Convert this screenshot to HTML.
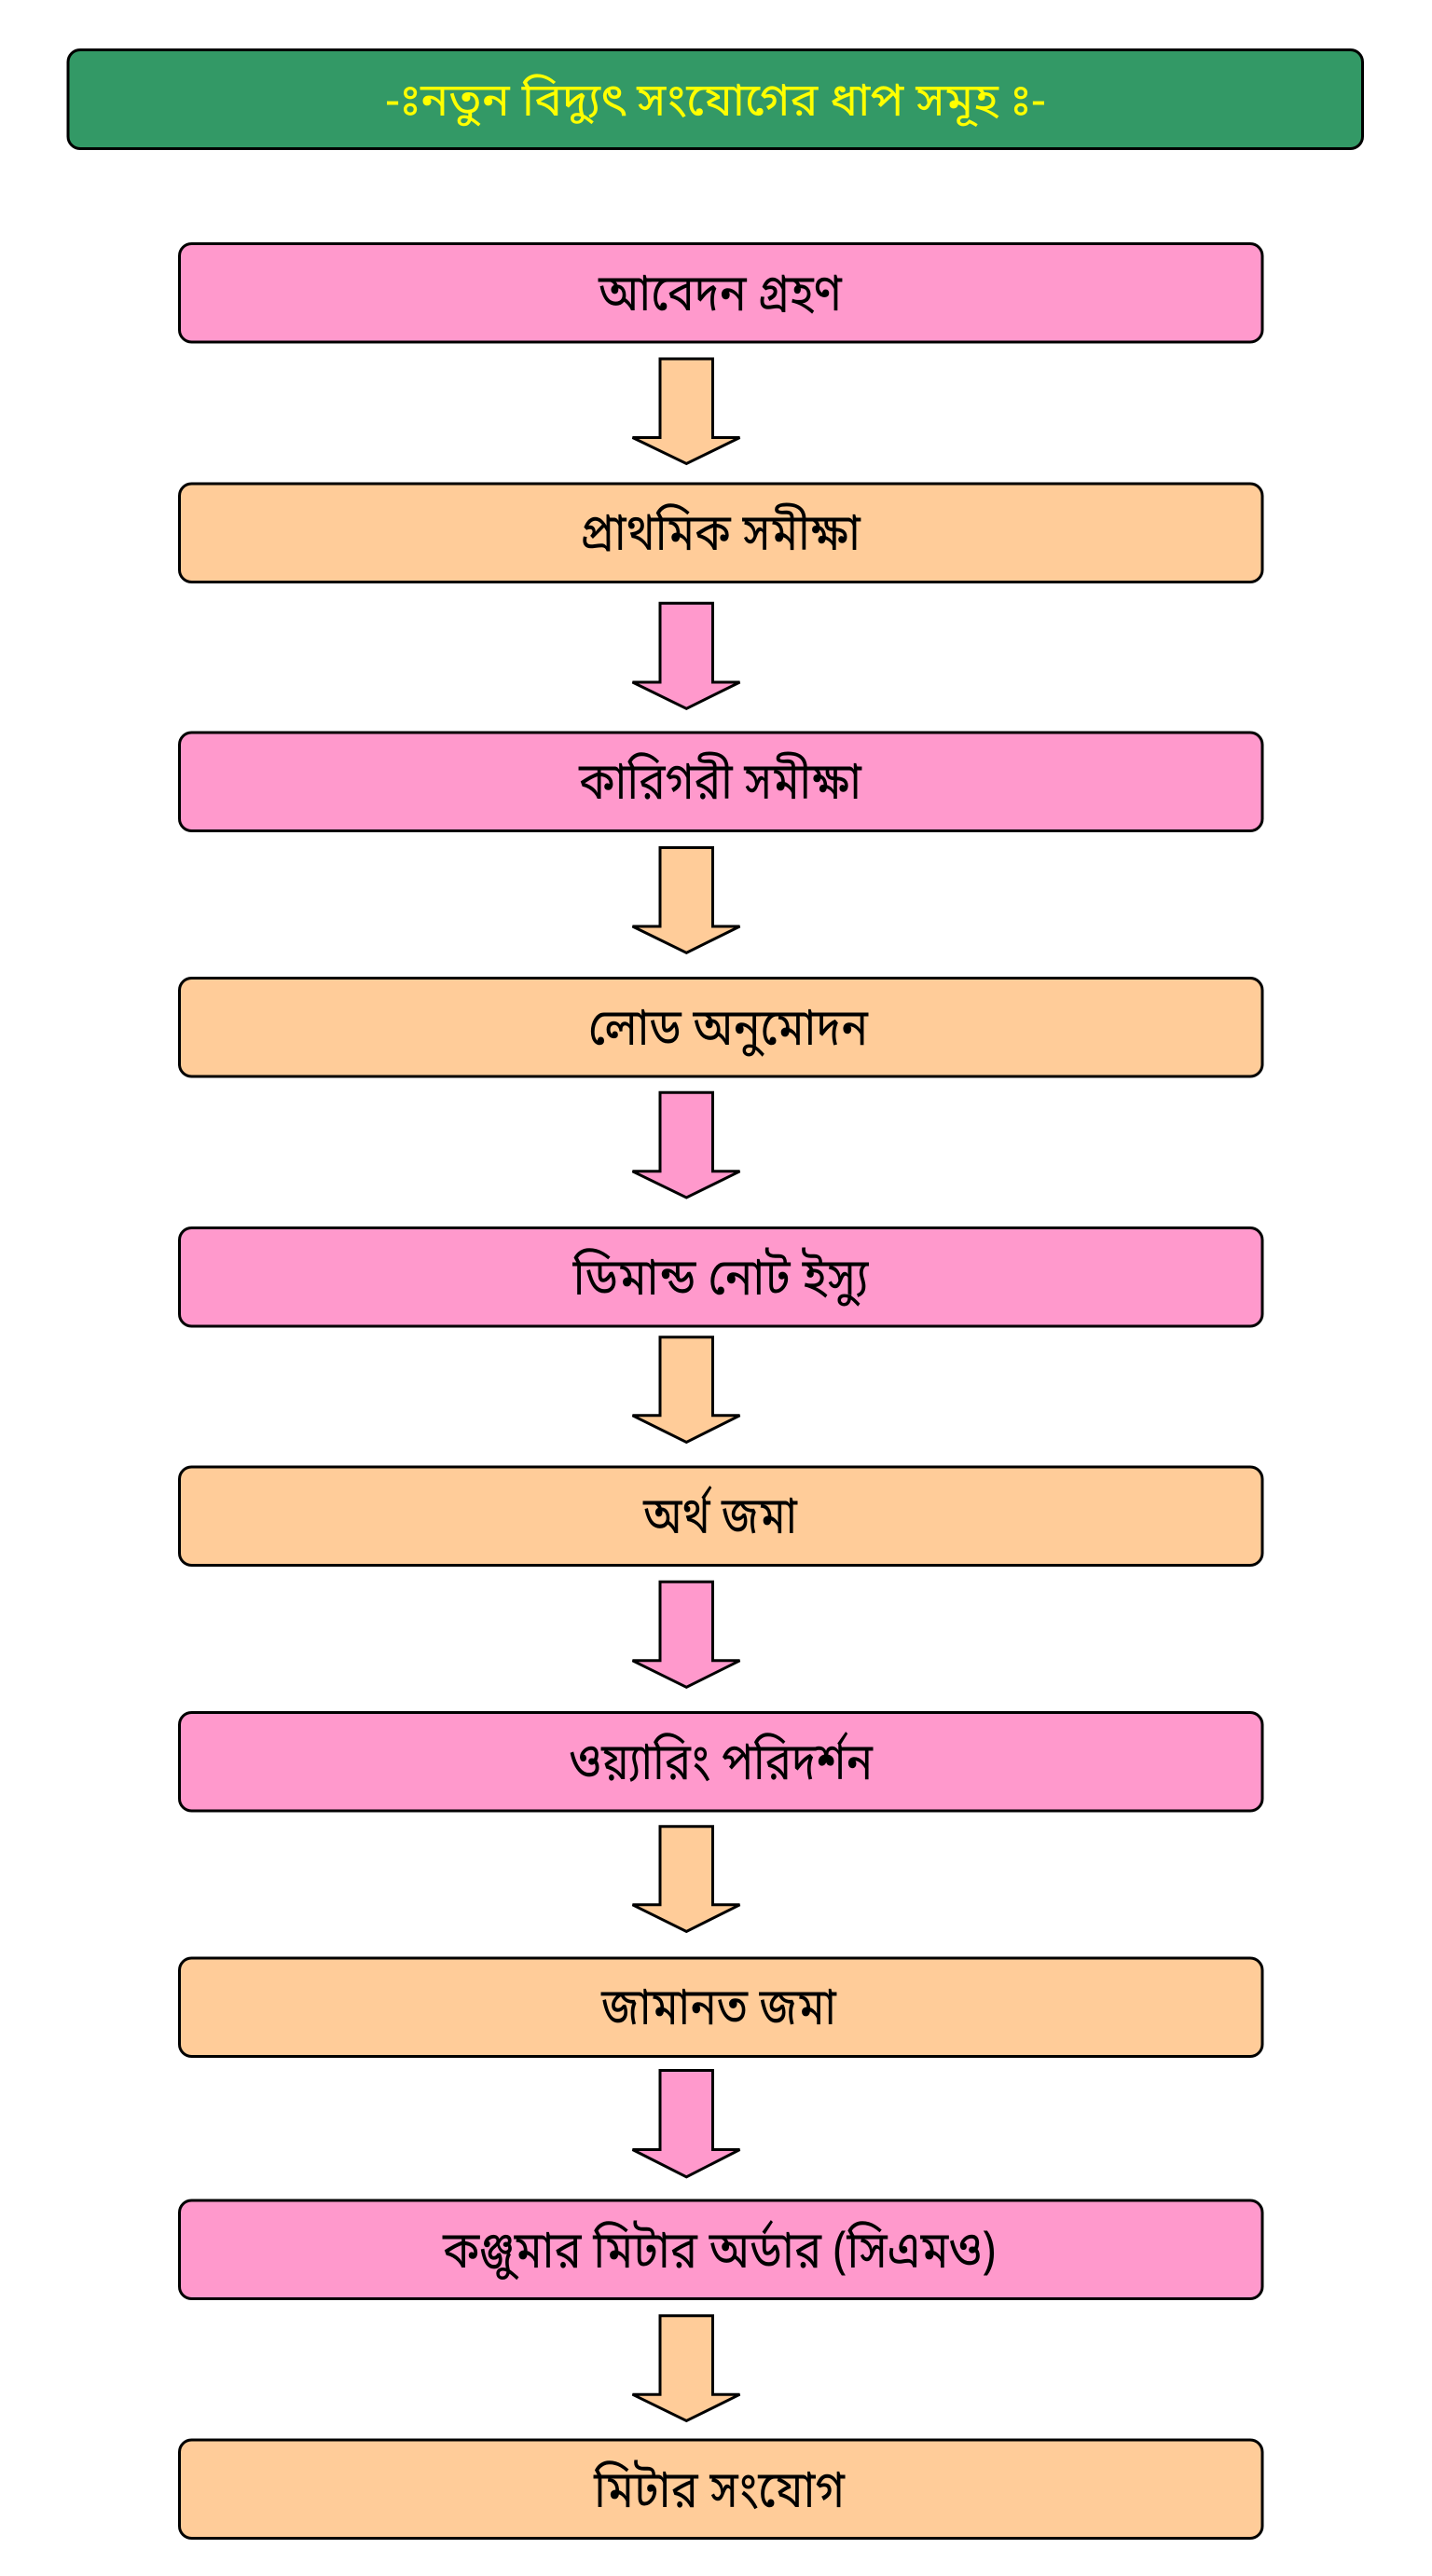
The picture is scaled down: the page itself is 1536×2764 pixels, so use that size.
<!DOCTYPE html>
<html lang="bn">
<head>
<meta charset="utf-8">
<title>নতুন বিদ্যুৎ সংযোগের ধাপ সমূহ</title>
<style>
html,body{margin:0;padding:0;background:#fff;width:1536px;height:2764px;overflow:hidden}
svg{display:block}
text{font-family:"Vrinda","Noto Sans Bengali","Noto Serif Bengali","Lohit Bengali","FreeSerif","Liberation Serif","Noto Serif CJK SC",serif;font-size:55px;text-anchor:middle;fill:#000}
rect,polygon{stroke:#000;stroke-width:3}
.p{fill:#FF99CC}.o{fill:#FFCC99}
</style>
</head>
<body>
<svg xmlns="http://www.w3.org/2000/svg" width="1536" height="2764" viewBox="0 0 1536 2764">
<rect x="73" y="53.5" width="1388.5" height="106" rx="13" fill="#339966"/>
<text x="767.5" y="124" textLength="709" lengthAdjust="spacingAndGlyphs" style="fill:#FFFF00;font-size:50px">-ঃনতুন বিদ্যুৎ সংযোগের ধাপ সমূহ&#160;ঃ-</text>

<rect class="p" x="192.5" y="261.5" width="1161.5" height="105.5" rx="13"/>
<text x="772.5" y="333" textLength="261" lengthAdjust="spacingAndGlyphs">আবেদন গ্রহণ</text>
<polygon class="o" points="708,385 764.5,385 764.5,469.5 793.5,469.5 736.3,497.5 678.5,469.5 708,469.5"/>

<rect class="o" x="192.5" y="519" width="1161.5" height="105.5" rx="13"/>
<text x="772.5" y="590" textLength="301" lengthAdjust="spacingAndGlyphs">প্রাথমিক সমীক্ষা</text>
<polygon class="p" points="708,647.2 764.5,647.2 764.5,732 793.5,732 736.3,760.3 678.5,732 708,732"/>

<rect class="p" x="192.5" y="786" width="1161.5" height="105.5" rx="13"/>
<text x="772.5" y="857" textLength="303" lengthAdjust="spacingAndGlyphs">কারিগরী সমীক্ষা</text>
<polygon class="o" points="708,909.5 764.5,909.5 764.5,994 793.5,994 736.3,1022.3 678.5,994 708,994"/>

<rect class="o" x="192.5" y="1049.5" width="1161.5" height="105.5" rx="13"/>
<text x="781" y="1121" textLength="300" lengthAdjust="spacingAndGlyphs">লোড অনুমোদন</text>
<polygon class="p" points="708,1172.2 764.5,1172.2 764.5,1256.8 793.5,1256.8 736.3,1285 678.5,1256.8 708,1256.8"/>

<rect class="p" x="192.5" y="1317.5" width="1161.5" height="105.5" rx="13"/>
<text x="773" y="1389" textLength="317" lengthAdjust="spacingAndGlyphs">ডিমান্ড নোট ইস্যু</text>
<polygon class="o" points="708,1434.8 764.5,1434.8 764.5,1518.8 793.5,1518.8 736.3,1547.5 678.5,1518.8 708,1518.8"/>

<rect class="o" x="192.5" y="1574" width="1161.5" height="105.5" rx="13"/>
<text x="772.5" y="1645" textLength="165" lengthAdjust="spacingAndGlyphs">অর্থ জমা</text>
<polygon class="p" points="708,1697.2 764.5,1697.2 764.5,1781.8 793.5,1781.8 736.3,1810.3 678.5,1781.8 708,1781.8"/>

<rect class="p" x="192.5" y="1837.5" width="1161.5" height="105.5" rx="13"/>
<text x="773" y="1909" textLength="326" lengthAdjust="spacingAndGlyphs">ওয়্যারিং পরিদর্শন</text>
<polygon class="o" points="708,1959.8 764.5,1959.8 764.5,2043.8 793.5,2043.8 736.3,2072.5 678.5,2043.8 708,2043.8"/>

<rect class="o" x="192.5" y="2101" width="1161.5" height="105.5" rx="13"/>
<text x="771" y="2172" textLength="252" lengthAdjust="spacingAndGlyphs">জামানত জমা</text>
<polygon class="p" points="708,2221.5 764.5,2221.5 764.5,2306.5 793.5,2306.5 736.3,2335.8 678.5,2306.5 708,2306.5"/>

<rect class="p" x="192.5" y="2361" width="1161.5" height="105.5" rx="13"/>
<text x="771.5" y="2433" textLength="593" lengthAdjust="spacingAndGlyphs">কঞ্জুমার মিটার অর্ডার (সিএমও)</text>
<polygon class="o" points="708,2484.8 764.5,2484.8 764.5,2569.2 793.5,2569.2 736.3,2597.5 678.5,2569.2 708,2569.2"/>

<rect class="o" x="192.5" y="2618" width="1161.5" height="105.5" rx="13"/>
<text x="771.5" y="2690" textLength="269" lengthAdjust="spacingAndGlyphs">মিটার সংযোগ</text>
</svg>
</body>
</html>
